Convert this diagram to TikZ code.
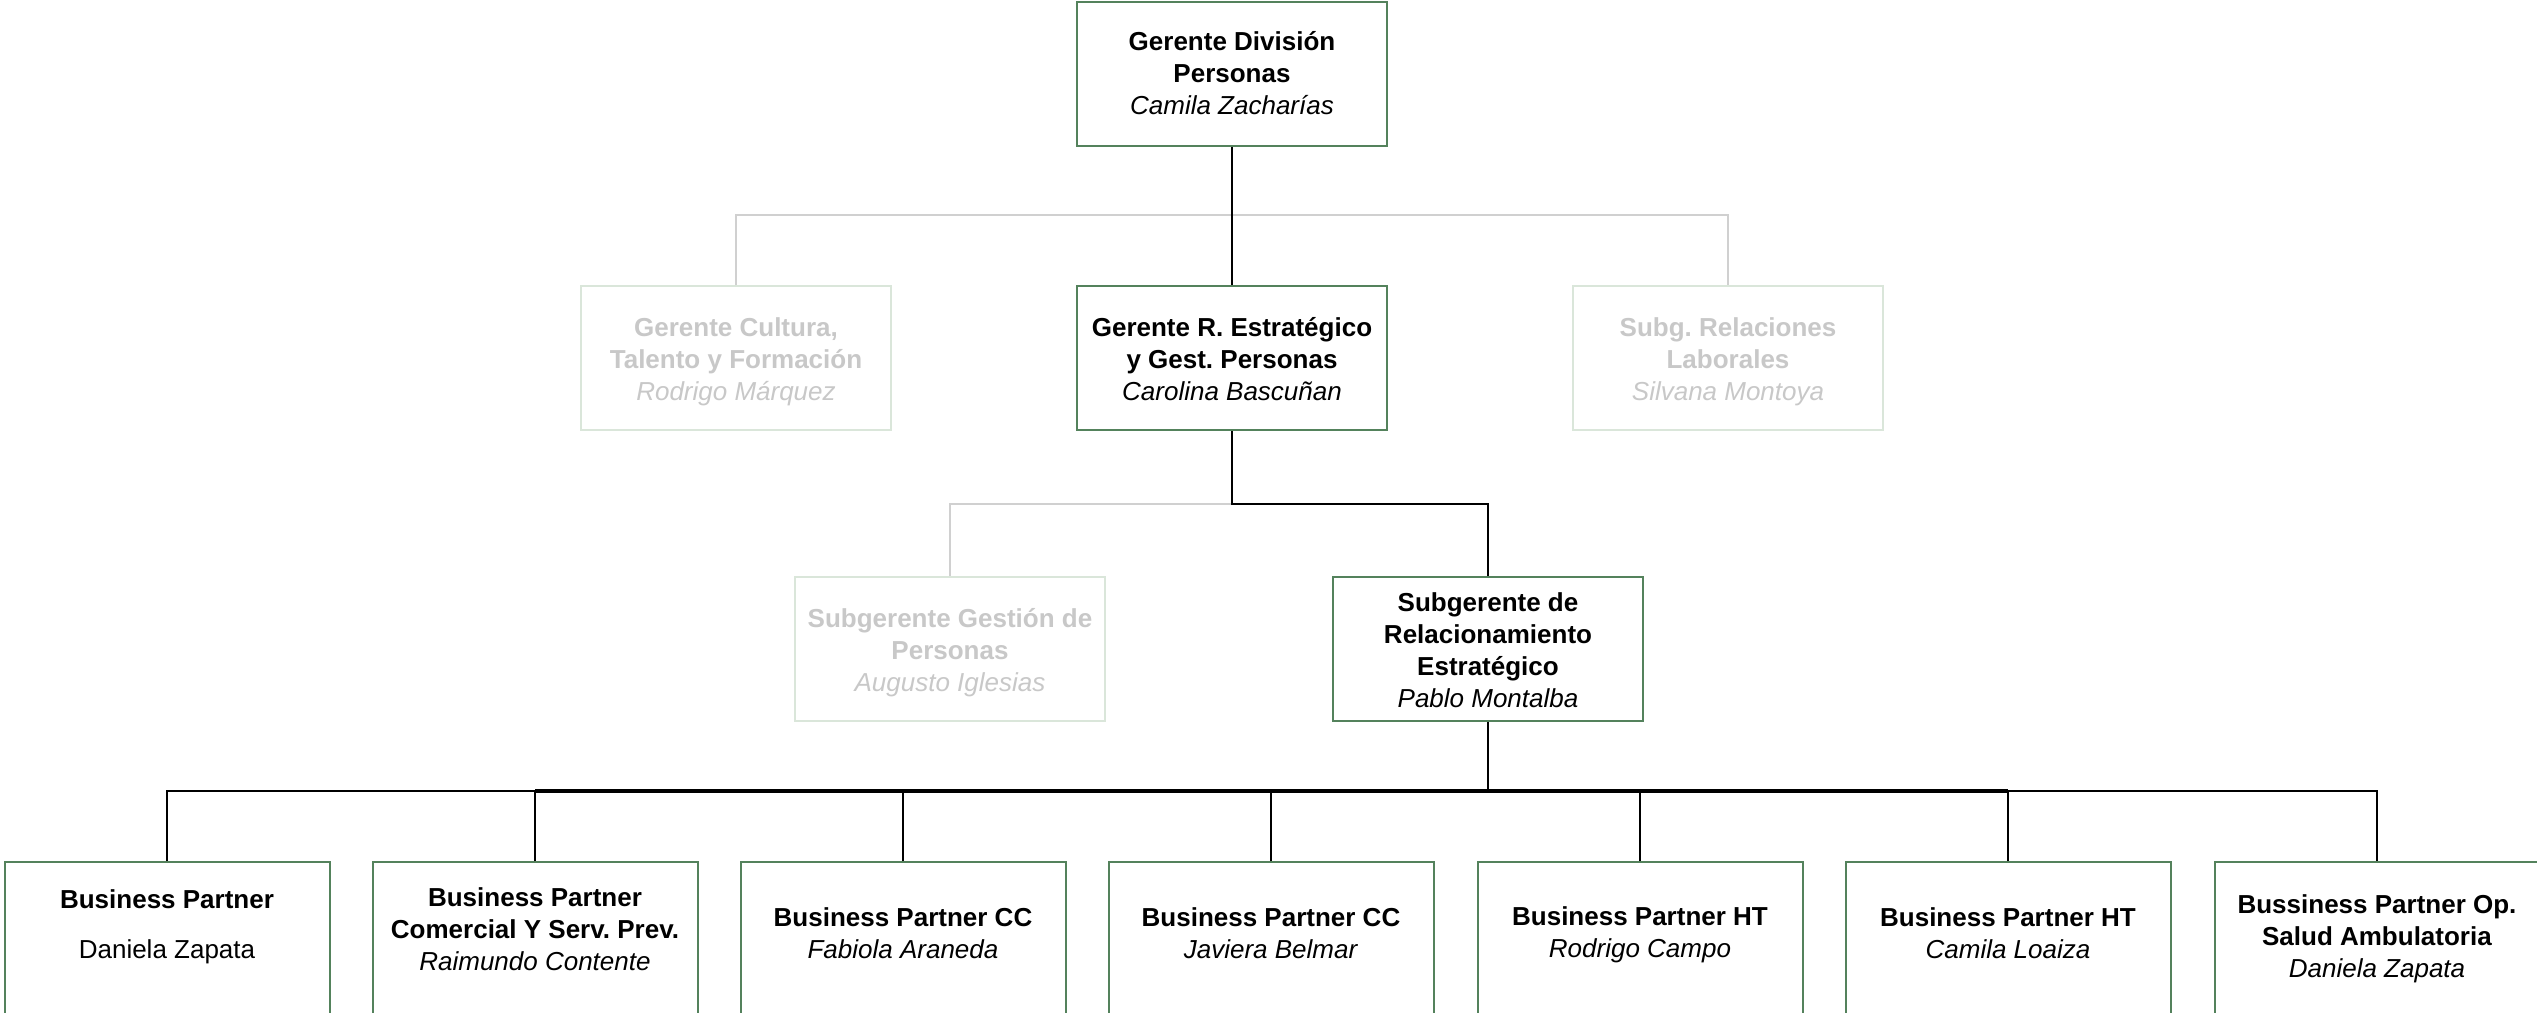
\documentclass[tikz,border=0pt]{standalone}
\usepackage{fontspec}
\setmainfont{Liberation Sans}
\frenchspacing
\definecolor{boxgreen}{RGB}{84,130,92}
\definecolor{fadegreen}{RGB}{218,230,218}
\definecolor{fadetext}{RGB}{200,200,200}
\definecolor{fadeline}{RGB}{208,208,208}
\tikzset{
  orgbox/.style={draw=boxgreen, line width=2pt, fill=white, minimum width=310pt, minimum height=144pt, inner sep=0pt},
  fadebox/.style={orgbox, draw=fadegreen},
  bpbox/.style={draw=boxgreen, line width=2pt, fill=white, minimum width=325pt, minimum height=260pt, anchor=north, inner sep=0pt},
  boxtext/.style={align=center, inner sep=0pt, font=\fontsize{26}{32}\selectfont, execute at begin node=\strut, execute at end node=\strut},
  fadetext/.style={boxtext, text=fadetext},
  link/.style={draw=black, line width=2pt},
  fadelink/.style={draw=fadeline, line width=2pt},
}
\begin{document}
\begin{tikzpicture}[x=1pt,y=-1pt]
\useasboundingbox (0,0) rectangle (2537,1012);
\clip (0,0) rectangle (2537,1012);
\coordinate (bus1) at (1232,215);
\coordinate (bus2) at (1232,504);
\coordinate (bus3) at (1488,791);
% boxes
\node[orgbox] (top) at (1232,74) {};
\node[fadebox] (l2a) at (736,358) {};
\node[orgbox] (l2b) at (1232,358) {};
\node[fadebox] (l2c) at (1728,358) {};
\node[fadebox] (l3a) at (950,649) {};
\node[orgbox] (l3b) at (1488,649) {};
\node[bpbox] (b1) at (167,861) {};
\node[bpbox] (b2) at (535,861) {};
\node[bpbox] (b3) at (903,861) {};
\node[bpbox] (b4) at (1271,861) {};
\node[bpbox] (b5) at (1640,861) {};
\node[bpbox] (b6) at (2008,861) {};
\node[bpbox] (b7) at (2377,861) {};
% texts
\node[boxtext] (ttop) at ([yshift=-4pt]top.center) {\textbf{Gerente División}\\\textbf{Personas}\\\textit{Camila Zacharías}};
\node[fadetext] (tl2a) at ([yshift=-6pt]l2a.center) {\textbf{Gerente Cultura,}\\\textbf{Talento y Formación}\\\textit{Rodrigo Márquez}};
\node[boxtext] (tl2b) at ([yshift=-6pt]l2b.center) {\textbf{Gerente R. Estratégico}\\\textbf{y Gest. Personas}\\\textit{Carolina Bascuñan}};
\node[fadetext] (tl2c) at ([yshift=-6pt]l2c.center) {\textbf{Subg. Relaciones}\\\textbf{Laborales}\\\textit{Silvana Montoya}};
\node[fadetext] (tl3a) at ([yshift=-6pt]l3a.center) {\textbf{Subgerente Gestión de}\\\textbf{Personas}\\\textit{Augusto Iglesias}};
\node[boxtext] (tl3b) at ([yshift=-6pt]l3b.center) {\textbf{Subgerente de}\\\textbf{Relacionamiento}\\\textbf{Estratégico}\\\textit{Pablo Montalba}};
\node[boxtext] (t1) at (167,929) {\textbf{Business Partner}\\[18pt]Daniela Zapata};
\node[boxtext] (t2) at (535,934) {\textbf{Business Partner}\\\textbf{Comercial Y Serv. Prev.}\\\textit{Raimundo Contente}};
\node[boxtext] (t3) at (903,938) {\textbf{Business Partner CC}\\\textit{Fabiola Araneda}};
\node[boxtext] (t4) at (1271,938) {\textbf{Business Partner CC}\\\textit{Javiera Belmar}};
\node[boxtext] (t5) at (1640,937) {\textbf{Business Partner HT}\\\textit{Rodrigo Campo}};
\node[boxtext] (t6) at (2008,938) {\textbf{Business Partner HT}\\\textit{Camila Loaiza}};
\node[boxtext] (t7) at (2377,941) {\textbf{Bussiness Partner Op.}\\\textbf{Salud Ambulatoria}\\\textit{Daniela Zapata}};
% connectors
\draw[fadelink] (l2a.north) |- (bus1) -| (l2c.north);
\draw[link] (top.south) -- (l2b.north);
\draw[fadelink] (bus2) -| (l3a.north);
\draw[link] (l2b.south) -- (bus2) -| (l3b.north);
\draw[link] (l3b.south) -- (bus3);
\draw[link] (b1.north) |- (b7.north |- bus3) -- (b7.north);
\draw[link, line width=4pt] (b2.north |- bus3) -- (b6.north |- bus3);
\foreach \b in {b2,b3,b4,b5,b6} {
  \draw[link] (\b.north) -- (\b.north |- bus3);
}
\end{tikzpicture}
\end{document}
